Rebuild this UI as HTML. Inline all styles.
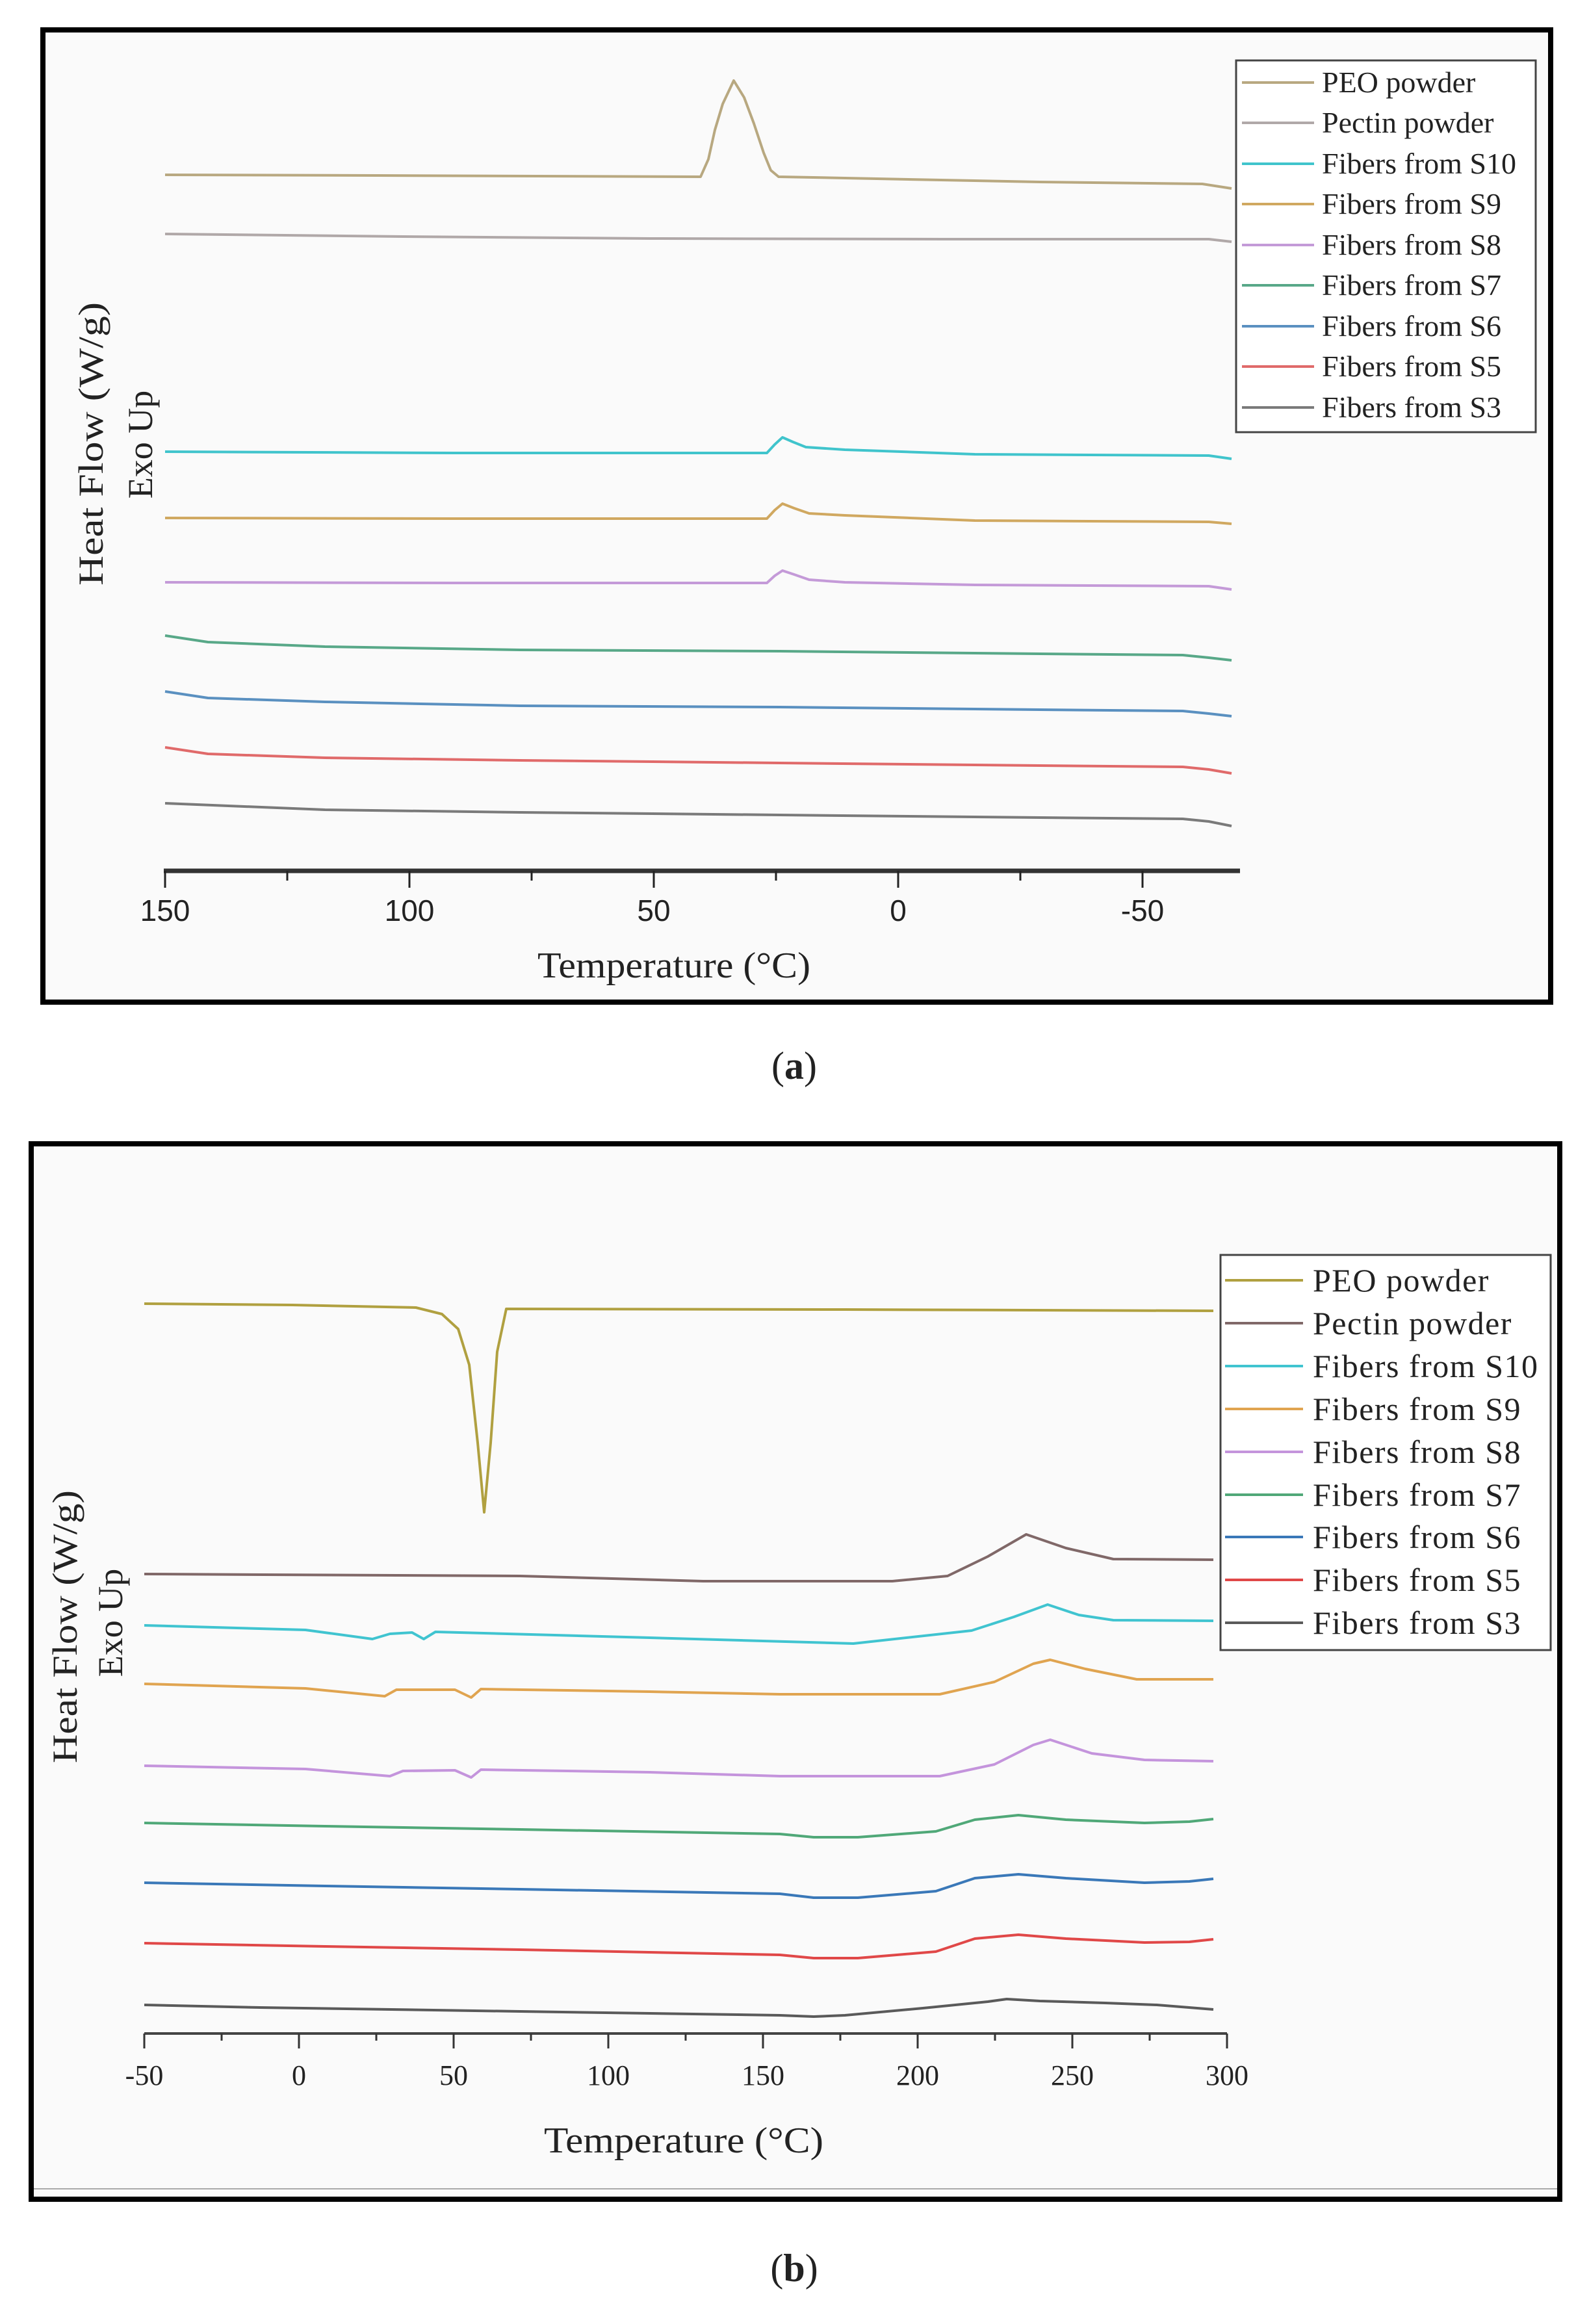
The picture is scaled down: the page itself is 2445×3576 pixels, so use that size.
<!DOCTYPE html>
<html><head><meta charset="utf-8"><style>
html,body{margin:0;padding:0;background:#fff}
svg{display:block}
.s{font-family:"Liberation Serif",serif;fill:#222}
.ss{font-family:"Liberation Sans",sans-serif;fill:#222}
</style></head><body>
<svg width="2445" height="3576" viewBox="0 0 2445 3576" xmlns="http://www.w3.org/2000/svg">
<rect width="2445" height="3576" fill="#fff"/>
<!-- Panel a -->
<rect x="66" y="46" width="2320" height="1496" fill="#fafafa" stroke="#000" stroke-width="8"/>
<g fill="none" stroke-width="4" stroke-linejoin="round">
<polyline stroke="#b8a880" points="254,269 580,270 1078,272 1090,245 1100,200 1112,160 1129,124 1145,150 1160,190 1175,235 1186,262 1198,272 1300,274 1600,280 1850,283 1895,290"/>
<polyline stroke="#b0a8a8" points="254,360 620,364 1000,367 1450,368 1860,368 1895,372"/>
<polyline stroke="#40c4cc" points="254,695 700,697 1180,697 1192,684 1204,673 1220,680 1240,688 1300,692 1500,699 1860,701 1895,706"/>
<polyline stroke="#d0a860" points="254,797 700,798 1180,798 1192,785 1204,775 1222,782 1245,790 1300,793 1500,801 1860,803 1895,806"/>
<polyline stroke="#c49ad8" points="254,896 700,897 1180,897 1192,886 1204,878 1222,884 1245,892 1300,896 1500,900 1860,902 1895,907"/>
<polyline stroke="#58a888" points="254,978 320,988 500,995 800,1000 1200,1002 1600,1006 1820,1008 1860,1012 1895,1016"/>
<polyline stroke="#5a90c0" points="254,1064 320,1074 500,1080 800,1086 1200,1088 1600,1092 1820,1094 1860,1098 1895,1102"/>
<polyline stroke="#e06a6a" points="254,1150 320,1160 500,1166 800,1170 1200,1174 1600,1178 1820,1180 1860,1184 1895,1190"/>
<polyline stroke="#7a7a7a" points="254,1236 500,1246 800,1250 1200,1254 1600,1258 1820,1260 1860,1264 1895,1271"/>
</g>
<line x1="252" y1="1340" x2="1908" y2="1340" stroke="#333" stroke-width="7"/>
<g stroke="#222" stroke-width="3">
<line x1="254" y1="1340" x2="254" y2="1366"/><line x1="630" y1="1340" x2="630" y2="1366"/><line x1="1006" y1="1340" x2="1006" y2="1366"/><line x1="1382" y1="1340" x2="1382" y2="1366"/><line x1="1758" y1="1340" x2="1758" y2="1366"/>
<line x1="442" y1="1340" x2="442" y2="1355"/><line x1="818" y1="1340" x2="818" y2="1355"/><line x1="1194" y1="1340" x2="1194" y2="1355"/><line x1="1570" y1="1340" x2="1570" y2="1355"/>
</g>
<g class="ss" font-size="46" text-anchor="middle">
<text x="254" y="1417">150</text><text x="630" y="1417">100</text><text x="1006" y="1417">50</text><text x="1382" y="1417">0</text><text x="1758" y="1417">-50</text>
</g>
<text class="s" x="1037" y="1504" font-size="56" text-anchor="middle" textLength="420" lengthAdjust="spacingAndGlyphs">Temperature (°C)</text>
<text class="s" font-size="54" text-anchor="middle" transform="translate(158,683) rotate(-90)" textLength="436" lengthAdjust="spacingAndGlyphs">Heat Flow (W/g)</text>
<text class="s" font-size="54" text-anchor="middle" transform="translate(234,684) rotate(-90)">Exo Up</text>
<rect x="1902" y="93" width="461" height="572" fill="#fff" stroke="#444" stroke-width="3"/>
<g stroke-width="4">
<line x1="1911" y1="127" x2="2022" y2="127" stroke="#b8a880"/>
<line x1="1911" y1="189" x2="2022" y2="189" stroke="#b0a8a8"/>
<line x1="1911" y1="252" x2="2022" y2="252" stroke="#40c4cc"/>
<line x1="1911" y1="314" x2="2022" y2="314" stroke="#d0a860"/>
<line x1="1911" y1="377" x2="2022" y2="377" stroke="#c49ad8"/>
<line x1="1911" y1="439" x2="2022" y2="439" stroke="#58a888"/>
<line x1="1911" y1="502" x2="2022" y2="502" stroke="#5a90c0"/>
<line x1="1911" y1="564" x2="2022" y2="564" stroke="#e06a6a"/>
<line x1="1911" y1="627" x2="2022" y2="627" stroke="#7a7a7a"/>
</g>
<g class="s" font-size="46">
<text x="2034" y="142">PEO powder</text><text x="2034" y="204">Pectin powder</text>
<text x="2034" y="267">Fibers from S10</text><text x="2034" y="329">Fibers from S9</text>
<text x="2034" y="392">Fibers from S8</text><text x="2034" y="454">Fibers from S7</text>
<text x="2034" y="517">Fibers from S6</text><text x="2034" y="579">Fibers from S5</text>
<text x="2034" y="642">Fibers from S3</text>
</g>
<text class="s" x="1222" y="1660" font-size="60" text-anchor="middle">(<tspan font-weight="bold">a</tspan>)</text>

<!-- Panel b -->
<rect x="48" y="1760" width="2352" height="1624" fill="#fafafa" stroke="#000" stroke-width="8"/>
<line x1="52" y1="3368" x2="2396" y2="3368" stroke="#aaa" stroke-width="2"/>
<g fill="none" stroke-width="4" stroke-linejoin="round">
<polyline stroke="#b0a040" points="222,2006 450,2008 640,2012 680,2022 705,2045 722,2100 735,2220 745,2327 755,2220 765,2080 779,2014 1300,2015 1867,2017"/>
<polyline stroke="#806868" points="222,2422 800,2425 1082,2433 1373,2433 1458,2425 1520,2395 1579,2361 1640,2382 1713,2399 1867,2400"/>
<polyline stroke="#40c4d0" points="222,2501 470,2508 573,2522 600,2514 634,2512 652,2522 670,2511 1000,2520 1313,2529 1495,2509 1560,2488 1612,2469 1660,2485 1713,2493 1867,2494"/>
<polyline stroke="#e0a450" points="222,2591 470,2598 592,2610 610,2600 700,2600 725,2612 740,2599 1000,2603 1200,2607 1446,2607 1530,2588 1590,2560 1616,2554 1670,2568 1749,2584 1867,2584"/>
<polyline stroke="#c494dc" points="222,2717 470,2722 600,2733 620,2725 700,2724 725,2735 740,2723 1000,2727 1200,2733 1446,2733 1530,2715 1590,2685 1616,2677 1680,2698 1761,2708 1867,2710"/>
<polyline stroke="#50a878" points="222,2805 500,2810 800,2815 1200,2822 1252,2827 1320,2827 1440,2818 1500,2800 1567,2793 1640,2800 1761,2805 1830,2803 1867,2799"/>
<polyline stroke="#3a78b8" points="222,2897 500,2902 800,2907 1200,2914 1252,2920 1320,2920 1440,2910 1500,2890 1567,2884 1640,2890 1761,2897 1830,2895 1867,2891"/>
<polyline stroke="#e04848" points="222,2990 500,2995 800,3000 1200,3008 1252,3013 1320,3013 1440,3003 1500,2983 1567,2977 1640,2983 1761,2989 1830,2988 1867,2984"/>
<polyline stroke="#5a5a5a" points="222,3085 400,3089 800,3095 1200,3101 1252,3103 1300,3101 1420,3090 1520,3080 1549,3076 1600,3079 1700,3082 1780,3085 1867,3092"/>
</g>
<line x1="222" y1="3129" x2="1888" y2="3129" stroke="#444" stroke-width="4"/>
<g stroke="#333" stroke-width="3">
<line x1="222" y1="3129" x2="222" y2="3152"/><line x1="460" y1="3129" x2="460" y2="3152"/><line x1="698" y1="3129" x2="698" y2="3152"/><line x1="936" y1="3129" x2="936" y2="3152"/><line x1="1174" y1="3129" x2="1174" y2="3152"/><line x1="1412" y1="3129" x2="1412" y2="3152"/><line x1="1650" y1="3129" x2="1650" y2="3152"/><line x1="1888" y1="3129" x2="1888" y2="3152"/>
<line x1="341" y1="3129" x2="341" y2="3140"/><line x1="579" y1="3129" x2="579" y2="3140"/><line x1="817" y1="3129" x2="817" y2="3140"/><line x1="1055" y1="3129" x2="1055" y2="3140"/><line x1="1293" y1="3129" x2="1293" y2="3140"/><line x1="1531" y1="3129" x2="1531" y2="3140"/><line x1="1769" y1="3129" x2="1769" y2="3140"/>
</g>
<g class="s" font-size="44" text-anchor="middle">
<text x="222" y="3208">-50</text><text x="460" y="3208">0</text><text x="698" y="3208">50</text><text x="936" y="3208">100</text><text x="1174" y="3208">150</text><text x="1412" y="3208">200</text><text x="1650" y="3208">250</text><text x="1888" y="3208">300</text>
</g>
<text class="s" x="1052" y="3312" font-size="56" text-anchor="middle" textLength="430" lengthAdjust="spacingAndGlyphs">Temperature (°C)</text>
<text class="s" font-size="54" text-anchor="middle" transform="translate(118,2503) rotate(-90)" textLength="420" lengthAdjust="spacingAndGlyphs">Heat Flow (W/g)</text>
<text class="s" font-size="54" text-anchor="middle" transform="translate(188,2497) rotate(-90)">Exo Up</text>
<rect x="1878" y="1931" width="508" height="608" fill="#fff" stroke="#444" stroke-width="3"/>
<g stroke-width="4">
<line x1="1885" y1="1970" x2="2005" y2="1970" stroke="#b0a040"/>
<line x1="1885" y1="2036" x2="2005" y2="2036" stroke="#806868"/>
<line x1="1885" y1="2102" x2="2005" y2="2102" stroke="#40c4d0"/>
<line x1="1885" y1="2168" x2="2005" y2="2168" stroke="#e0a450"/>
<line x1="1885" y1="2234" x2="2005" y2="2234" stroke="#c494dc"/>
<line x1="1885" y1="2300" x2="2005" y2="2300" stroke="#50a878"/>
<line x1="1885" y1="2365" x2="2005" y2="2365" stroke="#3a78b8"/>
<line x1="1885" y1="2431" x2="2005" y2="2431" stroke="#e04848"/>
<line x1="1885" y1="2497" x2="2005" y2="2497" stroke="#5a5a5a"/>
</g>
<g class="s" font-size="50" letter-spacing="1.5">
<text x="2020" y="1987">PEO powder</text><text x="2020" y="2053">Pectin powder</text>
<text x="2020" y="2119">Fibers from S10</text><text x="2020" y="2185">Fibers from S9</text>
<text x="2020" y="2251">Fibers from S8</text><text x="2020" y="2317">Fibers from S7</text>
<text x="2020" y="2382">Fibers from S6</text><text x="2020" y="2448">Fibers from S5</text>
<text x="2020" y="2514">Fibers from S3</text>
</g>
<text class="s" x="1222" y="3510" font-size="60" text-anchor="middle">(<tspan font-weight="bold">b</tspan>)</text>
</svg>
</body></html>
